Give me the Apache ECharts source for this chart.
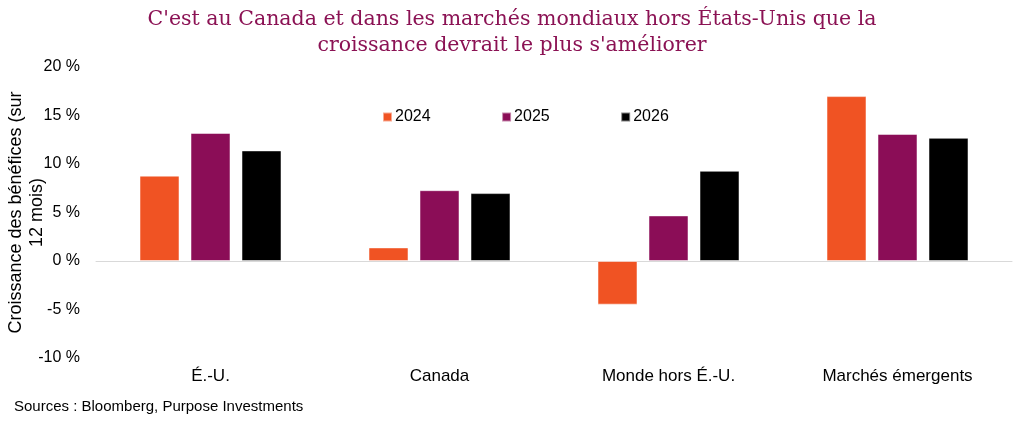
<!DOCTYPE html>
<html><head><meta charset="utf-8">
<script src="https://cdn.jsdelivr.net/npm/echarts@6/dist/echarts.min.js"></script>
<style>html,body{margin:0;padding:0;background:#fff}#c{width:1024px;height:422px}</style>
</head><body><div id="c"></div>
<script>
const categories = ["É.-U.", "Canada", "Monde hors É.-U.", "Marchés émergents"];
const seriesNames = ["2024", "2025", "2026"];
const v2024 = [8.8, 1.4, -4.5, 17.0];
const v2025 = [13.2, 7.3, 4.7, 13.1];
const v2026 = [11.4, 7.0, 9.3, 12.7];
const colors = ["#F05323", "#8B0D57", "#000000"];
const titleText = "C'est au Canada et dans les marchés mondiaux hors États-Unis que la\ncroissance devrait le plus s'améliorer";
const yName = "Croissance des bénéfices (sur\n12 mois)";
const sourceText = "Sources : Bloomberg, Purpose Investments";

const chart = echarts.init(document.getElementById('c'), null, {renderer: 'canvas'});
const font = 'Liberation Sans, Arial, sans-serif';
const values = [v2024, v2025, v2026];
chart.setOption({
  animation: false,
  textStyle: {fontFamily: font},
  title: [{
    text: titleText, left: 'center', top: 2,
    textStyle: {fontFamily: 'DejaVu Serif, serif', fontWeight: 'normal', fontSize: 20.5, color: '#8B1254', lineHeight: 26},
  }, {
    text: sourceText, left: 9, top: 394,
    textStyle: {fontFamily: font, fontWeight: 'normal', fontSize: 15, color: '#000'}
  }],
  legend: {
    top: 104, left: 377, itemWidth: 9, itemHeight: 9, itemGap: 70.5,
    icon: 'rect',
    textStyle: {fontSize: 16, color: '#000', fontFamily: font, padding: [0,0,0,-2]},
    data: seriesNames
  },
  grid: {left: 96, right: 12, top: 67, bottom: 64, containLabel: false, outerBoundsMode: 'none'},
  xAxis: [{
    type: 'category', data: categories,
    axisLine: {show: true, onZero: true, lineStyle: {color: '#d9d9d9', width: 1}},
    axisTick: {show: false}, axisLabel: {show: false}
  }, {
    type: 'category', data: categories, position: 'bottom', offset: 0,
    axisLine: {show: false, onZero: false}, axisTick: {show: false},
    axisLabel: {show: true, fontSize: 17, color: '#000', margin: 10, fontFamily: font}
  }],
  yAxis: {
    type: 'value', min: -10, max: 20, interval: 5,
    axisLine: {show: false}, axisTick: {show: false}, splitLine: {show: false},
    axisLabel: {formatter: v => v + ' %', fontSize: 16, color: '#000', margin: 16, fontFamily: font},
    name: yName, nameLocation: 'middle', nameRotate: 90, nameGap: 48, nameMoveOverlap: false,
    nameTextStyle: {fontSize: 18, color: '#000', fontFamily: font, lineHeight: 21}
  },
  series: seriesNames.map((n, i) => ({
    name: n, type: 'bar', data: values[i],
    barWidth: 40, barGap: '27.5%', barCategoryGap: '38%',
    itemStyle: {color: colors[i], borderColor: 'rgba(255,255,255,0.5)', borderWidth: 1}
  }))
});
</script></body></html>
